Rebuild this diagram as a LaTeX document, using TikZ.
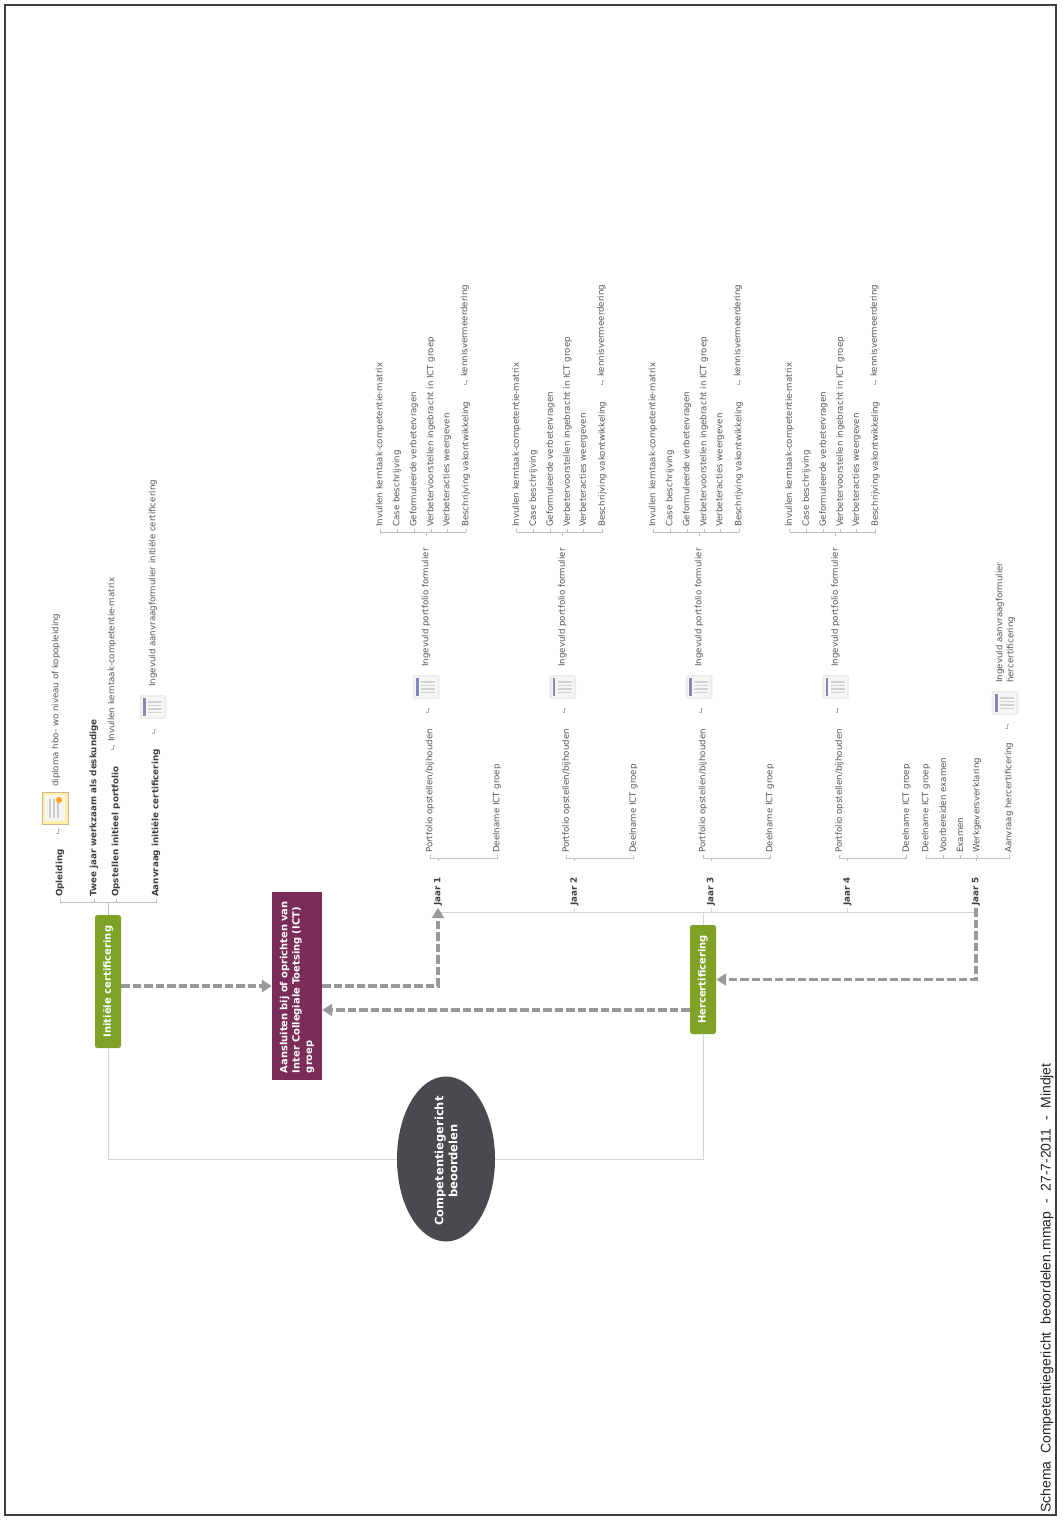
\documentclass[tikz,border=0pt]{standalone}
\usepackage{fontspec}
\setmainfont{DejaVu Sans}
\newfontfamily\footfont[WordSpace=2]{Liberation Sans}
\usepackage{tikz}
\usetikzlibrary{arrows.meta,calc,shapes.geometric}
\definecolor{darkGreen}{HTML}{7FA126}
\definecolor{darkPurple}{HTML}{7B2D5A}
\definecolor{darkSlate}{HTML}{4A4A4E}
\definecolor{linkGray}{HTML}{999999}
\definecolor{lineGray}{HTML}{D4D4D4}
\definecolor{textGray}{HTML}{555555}
\tikzset{
    leaf/.style={rotate=90,anchor=west,inner sep=2pt,text=textGray,font=\fontsize{8.65}{11}\selectfont},
    boldleaf/.style={leaf,text=black!75,font=\fontsize{8.75}{11}\selectfont\bfseries},
    greenbox/.style={rotate=90,fill=darkGreen,rounded corners=2.5pt,text=white,inner sep=0pt,minimum height=26pt,font=\fontsize{10}{12}\selectfont\bfseries},
    trunk/.style={draw=lineGray,line width=0.9pt},
    branch/.style={draw=lineGray!90!black,line width=0.7pt},
    dashlink/.style={draw=linkGray,line width=3.2pt,dash pattern=on 8.5pt off 3pt,-{Triangle[length=10pt,width=12pt]}},
    sheet/.pic={
        \fill[gray!14,rounded corners=1.5pt] (-13.5,-12) rectangle (13.5,12);
        \fill[white!94!gray] (-11,-10) rectangle (11,10);
        \fill[blue!25!gray!75] (-10,-9) rectangle (-7.5,9);
        \foreach \yo in {-6,-2.5,1,4.5} {
            \fill[gray!35] (-5,\yo) rectangle (9,\yo+1.5);
        }
    },
    diploma/.pic={
        \fill[orange!35!yellow!35!white,draw=orange!40!gray!60] (-13,-16) rectangle (13,16);
        \fill[white!92!gray] (-10,-13) rectangle (10,13);
        \foreach \xo in {-6,-2,2} {
            \fill[gray!40] (\xo,-9) rectangle (\xo+1.5,10);
        }
        \fill[orange!70!yellow] (4,-8) circle (3);
    },
    linkmark/.pic={
        \draw[gray!60,line width=0.6pt] (-2,2.5) -- (0,2.5) -- (0,-2) -- (1.5,-2);
    }
}

\begin{document}
\begin{tikzpicture}[x=1pt,y=-1pt]
    \useasboundingbox (0,0) rectangle (1063,1520);
    \draw[black!75,line width=1.8pt] (5,5) rectangle (1056,1515);

    \node[ellipse,fill=darkSlate,rotate=90,inner sep=0pt,minimum width=165pt,minimum height=98pt] (map) at (446,1159) {};
    \node[rotate=90,text=white,align=center,inner sep=0pt,font=\fontsize{11.5}{14}\selectfont\bfseries] (maptext) at (446,1161) {Competentiegericht\\beoordelen};
    \node[greenbox,minimum width=133pt] (init) at (108,981.5) {Initiële certificering};
    \node[greenbox,minimum width=109pt] (herc) at (703,979.5) {Hercertificering};
    \node[rotate=90,fill=darkPurple,text=white,align=left,inner sep=0pt,text width=174pt,minimum width=188pt,minimum height=50pt,font=\fontsize{9.9}{12.4}\selectfont\bfseries] (ict) at (297,986) {Aansluiten bij of oprichten van\\Inter Collegiale Toetsing (ICT)\\groep};

    \draw[trunk] (map.north) -| (init.west);
    \draw[trunk] (map.south) -| (herc.west);

    % Initial certification branch
    \coordinate (initbar) at (108,902);
    \node[boldleaf] (opl) at (60,899) {Opleiding};
    \node[boldleaf] (twee) at (94,899) {Twee jaar werkzaam als deskundige};
    \node[boldleaf] (ops) at (116,899) {Opstellen initieel portfolio};
    \node[boldleaf] (aan) at (156,899) {Aanvraag initiële certificering};
    \draw[branch] (init.east) -- (initbar);
    \draw[branch] (opl.west) |- (initbar) -| (aan.west);
    \draw[branch] (twee.west) -- (twee.west |- initbar);
    \draw[branch] (ops.west) -- (ops.west |- initbar);

    \pic at (58,831) {linkmark};
    \pic at (55,808) {diploma};
    \node[leaf] (dip) at (56,789) {diploma hbo- wo niveau of kopopleiding};
    \pic at (113,747) {linkmark};
    \node[leaf] (opsmat) at (112,744) {Invullen kerntaak-competentie-matrix};
    \pic at (154,731) {linkmark};
    \pic at (153,707) {sheet};
    \node[leaf] (aanform) at (153,689) {Ingevuld aanvraagformulier initiële certificering};

    % Year branches
    \coordinate (hub) at (703,912);
    \foreach \n/\dx in {1/0,2/136.5,3/273,4/409.5} {
        \node[boldleaf] (j\n) at (438+\dx,908) {Jaar \n};
        \coordinate (bar\n) at (438+\dx,858);
        \coordinate (tick\n) at (438+\dx,861);
        \node[leaf] (port\n) at (430+\dx,855) {Portfolio opstellen/bijhouden};
        \node[leaf] (deel\n) at (497+\dx,855) {Deelname ICT groep};
        \draw[branch] (tick\n) -- (bar\n);
        \draw[branch] (port\n.west) |- (bar\n) -| (deel\n.west);
        \pic at (428+\dx,710) {linkmark};
        \pic at (426+\dx,687) {sheet};
        \node[leaf] (ing\n) at (426+\dx,669) {Ingevuld portfolio formulier};
        \coordinate (sub\n) at (426+\dx,532);
        \coordinate (stub\n) at (426+\dx,536);
        \foreach \m/\xo/\txt in {a/380/Invullen kerntaak-competentie-matrix,b/397/Case beschrijving,c/414/Geformuleerde verbetervragen,d/431/Verbetervoorstellen ingebracht in ICT groep,e/447/Verbeteracties weergeven,f/466/Beschrijving vakontwikkeling} {
            \node[leaf] (s\n\m) at (\xo+\dx,529) {\txt};
            \draw[branch] (s\n\m.west) -- (s\n\m.west |- sub\n);
        }
        \draw[branch] (stub\n) -- (sub\n);
        \draw[branch] (s\n a.west |- sub\n) -- (s\n f.west |- sub\n);
        \pic at (466+\dx,382) {linkmark};
        \node[leaf] (kenn\n) at (465+\dx,379) {kennisvermeerdering};
    }
    \node[boldleaf] (j5) at (976,908) {Jaar 5};
    \draw[trunk] (herc.east) -- (hub);
    \draw[trunk] (j1.west) |- (hub) -| (j5.west);
    \draw[trunk] (j2.west) -- (j2.west |- hub);
    \draw[trunk] (j3.west) -- (j3.west |- hub);
    \draw[trunk] (j4.west) -- (j4.west |- hub);

    % Last year
    \coordinate (bar5) at (976,858);
    \coordinate (tick5) at (976,861);
    \node[leaf] (v1) at (926,855) {Deelname ICT groep};
    \node[leaf] (v2) at (943,855) {Voorbereiden examen};
    \node[leaf] (v3) at (960,855) {Examen};
    \node[leaf] (v4) at (977,855) {Werkgeversverklaring};
    \node[leaf] (v5) at (1009,855) {Aanvraag hercertificering};
    \draw[branch] (tick5) -- (bar5);
    \draw[branch] (v1.west) |- (bar5) -| (v5.west);
    \foreach \m in {2,3,4} {
        \draw[branch] (v\m.west) -- (v\m.west |- bar5);
    }
    \pic at (1007,726) {linkmark};
    \pic at (1005,703) {sheet};
    \node[leaf,align=left] (vform) at (1005.5,685) {Ingevuld aanvraagformulier\\hercertificering};

    % Dashed relations
    \coordinate (backlink) at (500,1010);
    \draw[dashlink] (init.south |- ict.north) -- (ict.north);
    \draw[dashlink] (ict.south) -| (j1.west);
    \draw[dashlink] (herc.north |- backlink) -- (ict.south |- backlink);
    \draw[dashlink] (j5.west) |- (herc.south);

    \node[rotate=90,anchor=west,inner sep=0pt,text=black!85,font=\footfont\fontsize{14}{16}\selectfont] (foot) at (1047,1513) {Schema Competentiegericht beoordelen.mmap - 27-7-2011 - Mindjet};
\end{tikzpicture}
\end{document}
